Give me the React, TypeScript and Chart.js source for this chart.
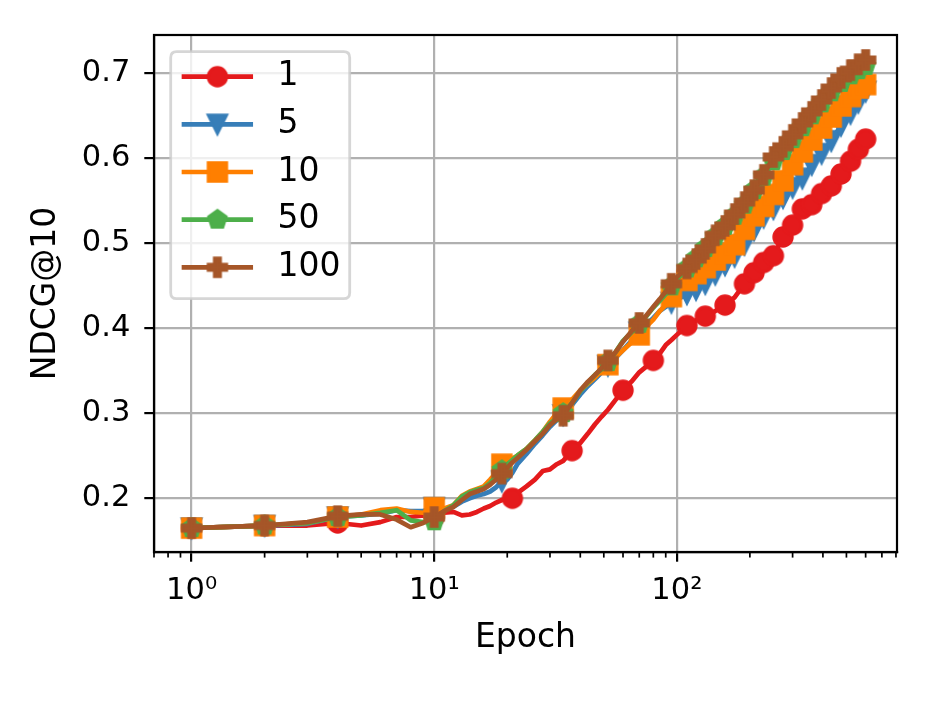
import React, { useEffect, useRef } from 'react';
import { Chart, registerables } from 'chart.js';

Chart.register(...registerables);

// ---------------- data ----------------
const EPOCHS = [
  1, 2, 3, 4, 5, 6, 7, 8, 9, 10, 11, 12, 13, 14, 15, 16, 17, 18, 19, 20, 21, 22,
  24, 26, 28, 30, 32, 34, 37, 40, 43, 46, 49, 52, 56, 60, 65, 70, 75, 80, 85, 90, 95, 100,
  110, 120, 131, 144, 158, 173, 190, 208, 228, 250, 274, 300, 329, 360, 395, 433, 475, 520, 560, 600,
];

const NDCG_1 = [
  0.165, 0.168, 0.168, 0.171, 0.168, 0.172, 0.178, 0.178, 0.180, 0.178, 0.183, 0.184, 0.180, 0.181, 0.184, 0.188, 0.191, 0.195, 0.198, 0.199, 0.200, 0.206,
  0.214, 0.222, 0.232, 0.234, 0.240, 0.244, 0.256, 0.265, 0.276, 0.287, 0.296, 0.304, 0.316, 0.327, 0.337, 0.348, 0.355, 0.362, 0.370, 0.380, 0.386, 0.392,
  0.403, 0.409, 0.414, 0.420, 0.427, 0.436, 0.452, 0.465, 0.477, 0.485, 0.507, 0.521, 0.540, 0.545, 0.558, 0.567, 0.581, 0.596, 0.610, 0.622,
];

const NDCG_5 = [
  0.165, 0.168, 0.170, 0.178, 0.180, 0.182, 0.186, 0.185, 0.185, 0.189, 0.187, 0.190, 0.196, 0.200, 0.203, 0.205, 0.208, 0.213, 0.220, 0.222, 0.230, 0.240,
  0.252, 0.264, 0.274, 0.284, 0.292, 0.298, 0.310, 0.322, 0.332, 0.340, 0.348, 0.356, 0.365, 0.374, 0.385, 0.395, 0.404, 0.412, 0.420, 0.425, 0.430, 0.433,
  0.440, 0.445, 0.452, 0.463, 0.474, 0.484, 0.498, 0.515, 0.530, 0.540, 0.553, 0.565, 0.576, 0.592, 0.605, 0.620, 0.638, 0.652, 0.665, 0.678,
];

const NDCG_10 = [
  0.165, 0.168, 0.171, 0.178, 0.181, 0.186, 0.188, 0.184, 0.183, 0.189, 0.188, 0.192, 0.203, 0.208, 0.211, 0.214, 0.222, 0.230, 0.240, 0.244, 0.247, 0.250,
  0.258, 0.268, 0.278, 0.290, 0.300, 0.306, 0.316, 0.327, 0.335, 0.342, 0.350, 0.357, 0.366, 0.374, 0.383, 0.392, 0.402, 0.410, 0.420, 0.427, 0.437, 0.446,
  0.456, 0.464, 0.471, 0.480, 0.488, 0.498, 0.516, 0.532, 0.543, 0.557, 0.573, 0.592, 0.607, 0.621, 0.635, 0.648, 0.661, 0.672, 0.682, 0.686,
];

const NDCG_50 = [
  0.165, 0.168, 0.171, 0.178, 0.180, 0.183, 0.186, 0.174, 0.172, 0.173, 0.185, 0.192, 0.202, 0.207, 0.210, 0.212, 0.218, 0.226, 0.233, 0.240, 0.245, 0.250,
  0.258, 0.268, 0.278, 0.288, 0.294, 0.300, 0.312, 0.326, 0.336, 0.345, 0.352, 0.360, 0.372, 0.385, 0.395, 0.405, 0.414, 0.424, 0.432, 0.440, 0.449, 0.457,
  0.470, 0.482, 0.494, 0.508, 0.520, 0.532, 0.545, 0.562, 0.578, 0.596, 0.608, 0.622, 0.636, 0.650, 0.664, 0.677, 0.688, 0.697, 0.703, 0.708,
];

const NDCG_100 = [
  0.165, 0.168, 0.172, 0.179, 0.181, 0.181, 0.175, 0.166, 0.171, 0.178, 0.185, 0.190, 0.198, 0.205, 0.208, 0.211, 0.216, 0.222, 0.229, 0.236, 0.242, 0.247,
  0.257, 0.267, 0.276, 0.286, 0.293, 0.297, 0.312, 0.327, 0.337, 0.345, 0.353, 0.362, 0.372, 0.384, 0.396, 0.406, 0.415, 0.425, 0.434, 0.443, 0.452, 0.460,
  0.470, 0.481, 0.493, 0.509, 0.520, 0.534, 0.548, 0.562, 0.580, 0.601, 0.613, 0.627, 0.641, 0.654, 0.668, 0.682, 0.694, 0.703, 0.710, 0.715,
];

const MARKER_EPOCHS_1 = [1, 2, 4, 10, 21, 37, 60, 80, 110, 131, 158, 190, 208, 228, 250, 274, 300, 329, 360, 395, 433, 475, 520, 560, 600];
const MARKER_EPOCHS_OTHER = [1, 2, 4, 10, 19, 34, 52, 70, 95, 110, 120, 131, 144, 158, 173, 190, 208, 228, 250, 274, 300, 329, 360, 395, 433, 475, 520, 560, 600];

const SERIES_LABELS = ['1', '5', '10', '50', '100'];
const SERIES_COLORS = ['#e41a1c', '#377eb8', '#ff7f00', '#4daf4a', '#a65628'];
const SERIES_MARKERS = ['circle', 'triangleDown', 'square', 'pentagon', 'plus'];

const X_TICKS = [1, 10, 100];
const X_TICK_LABELS = ['10\u2070', '10\u00B9', '10\u00B2'];
const Y_TICKS = [0.2, 0.3, 0.4, 0.5, 0.6, 0.7];

const X_LABEL = 'Epoch';
const Y_LABEL = 'NDCG@10';

// ---------------- styling helpers ----------------
const FONT = 'DejaVu Sans';
const LINE_W = 4.7;

function makeMarker(kind: string, color: string): HTMLCanvasElement {
  const s = 32;
  const c = document.createElement('canvas');
  c.width = s;
  c.height = s;
  const g = c.getContext('2d') as CanvasRenderingContext2D;
  const m = s / 2;
  const r = 9.3;
  g.fillStyle = color;
  g.strokeStyle = color;
  g.lineWidth = 2.8;
  g.lineJoin = 'miter';
  g.beginPath();
  if (kind === 'circle') {
    g.arc(m, m, r, 0, Math.PI * 2);
  } else if (kind === 'square') {
    g.rect(m - r, m - r, 2 * r, 2 * r);
  } else if (kind === 'triangleDown') {
    g.moveTo(m - r, m - r);
    g.lineTo(m + r, m - r);
    g.lineTo(m, m + r);
    g.closePath();
  } else if (kind === 'pentagon') {
    for (let k = 0; k < 5; k++) {
      const a = -Math.PI / 2 + (k * 2 * Math.PI) / 5;
      const px = m + r * Math.cos(a);
      const py = m + r * Math.sin(a);
      if (k === 0) g.moveTo(px, py);
      else g.lineTo(px, py);
    }
    g.closePath();
  } else if (kind === 'plus') {
    const pts = [[-1, -3], [1, -3], [1, -1], [3, -1], [3, 1], [1, 1], [1, 3], [-1, 3], [-1, 1], [-3, 1], [-3, -1], [-1, -1]];
    pts.forEach(([px, py], k) => {
      const X = m + (px / 6) * 2 * r;
      const Y = m + (py / 6) * 2 * r;
      if (k === 0) g.moveTo(X, Y);
      else g.lineTo(X, Y);
    });
    g.closePath();
  }
  g.fill();
  g.stroke();
  return c;
}

const decorPlugin = {
  id: 'mplDecor',
  afterDatasetsDraw(chart: any) {
    const { ctx, chartArea: a, scales } = chart;
    const xs = scales.x;
    ctx.save();
    // minor log ticks
    ctx.strokeStyle = '#000';
    ctx.lineWidth = 1.7;
    for (let k = -1; k <= 2; k++) {
      for (let mm = 2; mm <= 9; mm++) {
        const v = mm * Math.pow(10, k);
        if (v < xs.min || v > xs.max) continue;
        const px = xs.getPixelForValue(v);
        ctx.beginPath();
        ctx.moveTo(px, a.bottom);
        ctx.lineTo(px, a.bottom + 5.6);
        ctx.stroke();
      }
    }
    // spines
    ctx.lineWidth = 2.2;
    ctx.strokeRect(a.left, a.top, a.right - a.left, a.bottom - a.top);

    // legend
    const f = 33;
    const x0 = a.left + 16.7;
    const y0 = a.top + 16.7;
    const w = 179;
    const h = 247;
    const rr = 6;
    ctx.beginPath();
    ctx.moveTo(x0 + rr, y0);
    ctx.lineTo(x0 + w - rr, y0);
    ctx.quadraticCurveTo(x0 + w, y0, x0 + w, y0 + rr);
    ctx.lineTo(x0 + w, y0 + h - rr);
    ctx.quadraticCurveTo(x0 + w, y0 + h, x0 + w - rr, y0 + h);
    ctx.lineTo(x0 + rr, y0 + h);
    ctx.quadraticCurveTo(x0, y0 + h, x0, y0 + h - rr);
    ctx.lineTo(x0, y0 + rr);
    ctx.quadraticCurveTo(x0, y0, x0 + rr, y0);
    ctx.closePath();
    ctx.fillStyle = 'rgba(255,255,255,0.8)';
    ctx.fill();
    ctx.strokeStyle = 'rgba(204,204,204,0.8)';
    ctx.lineWidth = 2.8;
    ctx.stroke();

    chart.data.datasets.forEach((ds: any, i: number) => {
      const cy = y0 + 25 + i * 47.65;
      ctx.strokeStyle = ds.borderColor;
      ctx.lineWidth = LINE_W;
      ctx.lineCap = 'square';
      ctx.beginPath();
      ctx.moveTo(x0 + 13.3, cy);
      ctx.lineTo(x0 + 80, cy);
      ctx.stroke();
      const img = ds.pointStyle as HTMLCanvasElement;
      ctx.drawImage(img, x0 + 46.7 - img.width / 2, cy - img.height / 2);
      ctx.fillStyle = '#000';
      ctx.font = `${f}px "${FONT}"`;
      ctx.textAlign = 'left';
      ctx.textBaseline = 'middle';
      ctx.fillText(ds.label, x0 + 106.7, cy);
    });
    ctx.restore();
  },
};

export default function App() {
  const ref = useRef<HTMLCanvasElement | null>(null);

  useEffect(() => {
    if (!ref.current) return;
    const values = [NDCG_1, NDCG_5, NDCG_10, NDCG_50, NDCG_100];
    const datasets = values.map((vals, i) => {
      const markerSet = i === 0 ? MARKER_EPOCHS_1 : MARKER_EPOCHS_OTHER;
      return {
        label: SERIES_LABELS[i],
        data: EPOCHS.map((e, j) => ({ x: e, y: vals[j] })),
        borderColor: SERIES_COLORS[i],
        backgroundColor: SERIES_COLORS[i],
        borderWidth: LINE_W,
        borderJoinStyle: 'round',
        borderCapStyle: 'square',
        tension: 0,
        pointStyle: makeMarker(SERIES_MARKERS[i], SERIES_COLORS[i]),
        pointRadius: EPOCHS.map((e) => (markerSet.includes(e) ? 10 : 0)),
        pointHoverRadius: 0,
        order: 5 - i,
      };
    });

    const tickFont = { family: FONT, size: 30.5 };
    const labelFont = { family: FONT, size: 33 };
    const gridOpts = {
      color: '#b0b0b0',
      lineWidth: 2.2,
      tickColor: '#000',
      tickWidth: 2.2,
      tickLength: 9.7,
      drawTicks: true,
    };

    const chart = new Chart(ref.current, {
      type: 'line',
      data: { datasets: datasets as any },
      options: {
        responsive: false,
        animation: false,
        devicePixelRatio: 1,
        events: [],
        layout: { padding: { top: 35, right: 37, left: 0, bottom: 0 } },
        plugins: { legend: { display: false }, tooltip: { enabled: false } },
        scales: {
          x: {
            type: 'logarithmic',
            position: 'bottom',
            min: 0.7183,
            max: 808,
            afterBuildTicks: (s: any) => {
              s.ticks = X_TICKS.map((v) => ({ value: v, major: true }));
            },
            afterFit: (s: any) => {
              s.height = 149;
            },
            ticks: {
              autoSkip: false,
              maxRotation: 0,
              padding: 11,
              color: '#000',
              font: tickFont,
              callback: (v: any) => {
                const idx = X_TICKS.indexOf(Number(v));
                return idx >= 0 ? X_TICK_LABELS[idx] : '';
              },
            },
            grid: gridOpts,
            border: { display: true, color: '#000', width: 2.2 },
            title: {
              display: true,
              text: X_LABEL,
              color: '#000',
              font: labelFont,
              padding: { top: 0, bottom: 43 },
            },
          },
          y: {
            type: 'linear',
            position: 'left',
            min: 0.1369,
            max: 0.7443,
            afterBuildTicks: (s: any) => {
              s.ticks = Y_TICKS.map((v) => ({ value: v }));
            },
            afterFit: (s: any) => {
              s.width = 154;
            },
            ticks: {
              padding: 14,
              color: '#000',
              font: tickFont,
              callback: (v: any) => Number(v).toFixed(1),
            },
            grid: gridOpts,
            border: { display: true, color: '#000', width: 2.2 },
            title: {
              display: true,
              text: Y_LABEL,
              color: '#000',
              font: labelFont,
              padding: { top: 27, bottom: 0 },
            },
          },
        },
      } as any,
      plugins: [decorPlugin],
    });

    return () => chart.destroy();
  }, []);

  return (
    <div style={{ position: 'absolute', left: 0, top: 0, width: 934, height: 701, background: '#fff' }}>
      <canvas ref={ref} width={934} height={701} style={{ display: 'block', width: 934, height: 701 }} />
    </div>
  );
}
